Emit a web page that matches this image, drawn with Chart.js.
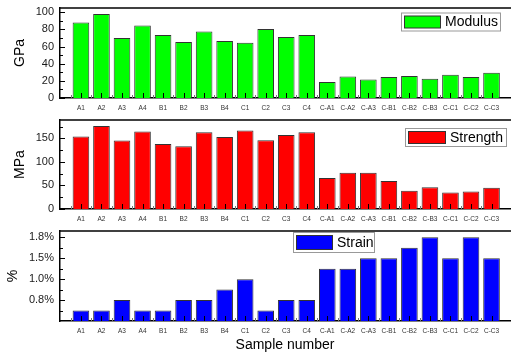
<!DOCTYPE html>
<html>
<head>
<meta charset="utf-8">
<script src="https://cdn.jsdelivr.net/npm/chart.js@4.4.1/dist/chart.umd.min.js"></script>
<style>
  html, body { margin: 0; padding: 0; background: #fff; }
  #wrap { position: relative; width: 511px; height: 357px; overflow: hidden; }
  .panel { position: absolute; left: 0; width: 511px; }
</style>
</head>
<body>
<div id="wrap">
  <div class="panel" style="top:0;height:114px"><canvas id="modChart"></canvas></div>
  <div class="panel" style="top:112px;height:114px"><canvas id="strChart"></canvas></div>
  <div class="panel" style="top:224px;height:133px"><canvas id="strainChart"></canvas></div>
</div>
<script>
// datos
const samples = ['A1', 'A2', 'A3', 'A4', 'B1', 'B2', 'B3', 'B4', 'C1', 'C2', 'C3', 'C4',
  'C-A1', 'C-A2', 'C-A3', 'C-B1', 'C-B2', 'C-B3', 'C-C1', 'C-C2', 'C-C3'];
const modulus = [88, 98, 70, 84.5, 73.6, 65.4, 77.5, 66.6, 64.6, 80.6, 71.3, 73.6,
  18.7, 25.2, 21.7, 24.5, 25.7, 22.5, 27.2, 24.5, 29.6];
const strength = [154, 176, 145.6, 164.6, 137.8, 133, 163, 153, 166.7, 146, 157.4, 163,
  66, 77, 77, 59.7, 39, 46.4, 35, 37, 45];
const strain = [0.75, 0.75, 0.9, 0.75, 0.75, 0.9, 0.9, 1.05, 1.2, 0.75, 0.9, 0.9,
  1.35, 1.35, 1.5, 1.5, 1.65, 1.8, 1.5, 1.8, 1.5];
const modulusTicks = [0, 20, 40, 60, 80, 100];
const strengthTicks = [0, 50, 100, 150];
const strainTicks = [0.9, 1.2, 1.5, 1.8];
const strainTickLabels = ['0.8%', '1.0%', '1.5%', '1.8%'];

const FONT = "Arial, 'Liberation Sans', sans-serif";

// marco superior + marcas interiores
const frameTicks = {
  id: 'frameTicks',
  afterDatasetsDraw(chart) {
    const { ctx, chartArea: a, scales: { x, y } } = chart;
    ctx.save();
    ctx.strokeStyle = '#000';
    ctx.lineWidth = 1.5;
    ctx.beginPath();
    ctx.moveTo(a.left, a.top);
    ctx.lineTo(chart.width, a.top);
    ctx.stroke();

    ctx.lineWidth = 1;
    const yv = y.ticks.map(t => t.value);
    yv.forEach(v => {
      const py = Math.round(y.getPixelForValue(v)) + 0.5;
      ctx.beginPath(); ctx.moveTo(a.left, py); ctx.lineTo(a.left + 5, py); ctx.stroke();
    });
    const step = yv[1] - yv[0];
    for (let v = yv[0] - step / 2; v <= y.max; v += step) {
      if (v <= y.min) continue;
      const py = Math.round(y.getPixelForValue(v)) + 0.5;
      ctx.beginPath(); ctx.moveTo(a.left, py); ctx.lineTo(a.left + 3, py); ctx.stroke();
    }

    samples.forEach((s, i) => {
      const px = Math.round(x.getPixelForValue(i)) + 0.5;
      ctx.strokeStyle = '#000';
      ctx.beginPath(); ctx.moveTo(px, a.bottom); ctx.lineTo(px, a.bottom - 5); ctx.stroke();
      const mx = Math.round(x.getPixelForValue(i - 0.5)) + 0.5;
      ctx.strokeStyle = '#777';
      ctx.beginPath(); ctx.moveTo(mx, a.bottom); ctx.lineTo(mx, a.bottom - 3); ctx.stroke();
    });
    ctx.restore();
  }
};

// leyenda con recuadro
const boxLegend = {
  id: 'boxLegend',
  afterDraw(chart, args, o) {
    const ds = chart.data.datasets[0];
    const ctx = chart.ctx;
    ctx.save();
    ctx.fillStyle = '#fff';
    ctx.fillRect(o.x, o.y, o.w, o.h);
    ctx.strokeStyle = '#999';
    ctx.lineWidth = 1;
    ctx.strokeRect(o.x + 0.5, o.y + 0.5, o.w, o.h);
    ctx.fillStyle = ds.backgroundColor;
    ctx.fillRect(o.x + 3.5, o.y + 3.5, o.sw, o.h - 6);
    ctx.strokeStyle = '#333';
    ctx.strokeRect(o.x + 3.5, o.y + 3.5, o.sw, o.h - 6);
    ctx.fillStyle = '#000';
    ctx.font = '14px ' + FONT;
    ctx.textBaseline = 'middle';
    ctx.fillText(ds.label, o.x + o.sw + 8, o.y + o.h / 2 + 1);
    ctx.restore();
  }
};

function noPad(s) {
  s.paddingTop = 0; s.paddingBottom = 0; s.paddingLeft = 0; s.paddingRight = 0;
}

function makePanel(id, p) {
  return new Chart(document.getElementById(id), {
    type: 'bar',
    data: {
      datasets: [{
        label: p.label,
        data: samples.map((s, i) => ({ x: i, y: p.values[i] })),
        backgroundColor: p.color,
        borderColor: '#333',
        borderWidth: 1,
        barPercentage: 0.81,
        categoryPercentage: 1
      }]
    },
    options: {
      responsive: true,
      maintainAspectRatio: false,
      animation: false,
      layout: { padding: { top: p.padTop, right: 1, left: 0, bottom: 0 } },
      plugins: {
        legend: { display: false },
        tooltip: { enabled: false },
        boxLegend: p.legend
      },
      scales: {
        x: {
          type: 'linear',
          offset: false,
          min: -1.02,
          max: 20.9,
          afterBuildTicks: s => { s.ticks = samples.map((c, i) => ({ value: i })); },
          afterFit: s => { s.height = p.xHeight; noPad(s); },
          grid: { display: false, drawTicks: false },
          border: { display: true, color: '#000', width: 1.5 },
          ticks: {
            autoSkip: false, maxRotation: 0, padding: 6,
            font: { size: 6.5, family: FONT }, color: '#333',
            callback: v => samples[v]
          },
          title: {
            display: !!p.xTitle, text: p.xTitle || '',
            font: { size: 14, family: FONT }, color: '#000', padding: 3.6
          }
        },
        y: {
          min: p.yMin,
          max: p.yMax,
          afterBuildTicks: s => { s.ticks = p.yTicks.map(v => ({ value: v })); },
          afterFit: s => { s.width = 60; noPad(s); },
          grid: { display: false, drawTicks: false },
          border: { display: true, color: '#000', width: 1.5 },
          ticks: {
            padding: 6, font: { size: 11, family: FONT }, color: '#1a1a1a',
            callback: (v, i) => p.yLabels ? p.yLabels[i] : v
          },
          title: {
            display: true, text: p.yTitle,
            font: { size: 14, family: FONT }, color: '#000', padding: p.titlePad
          }
        }
      }
    },
    plugins: [frameTicks, boxLegend]
  });
}

makePanel('modChart', {
  label: 'Modulus', values: modulus, color: '#00ff00',
  yMin: 0, yMax: 105, yTicks: modulusTicks, yTitle: 'GPa', titlePad: 12,
  padTop: 8, xHeight: 16,
  legend: { x: 401, y: 12.5, w: 99, h: 18, sw: 36 }
});
makePanel('strChart', {
  label: 'Strength', values: strength, color: '#ff0000',
  yMin: 0, yMax: 189, yTicks: strengthTicks, yTitle: 'MPa', titlePad: 12,
  padTop: 8, xHeight: 17,
  legend: { x: 405, y: 16, w: 101, h: 18, sw: 37 }
});
makePanel('strainChart', {
  label: 'Strain', values: strain, color: '#0000ff',
  yMin: 0.6, yMax: 1.89, yTicks: strainTicks, yLabels: strainTickLabels,
  yTitle: '%', titlePad: 5,
  padTop: 7, xHeight: 36, xTitle: 'Sample number',
  legend: { x: 293, y: 8, w: 81, h: 20, sw: 36 }
});
</script>
</body>
</html>
